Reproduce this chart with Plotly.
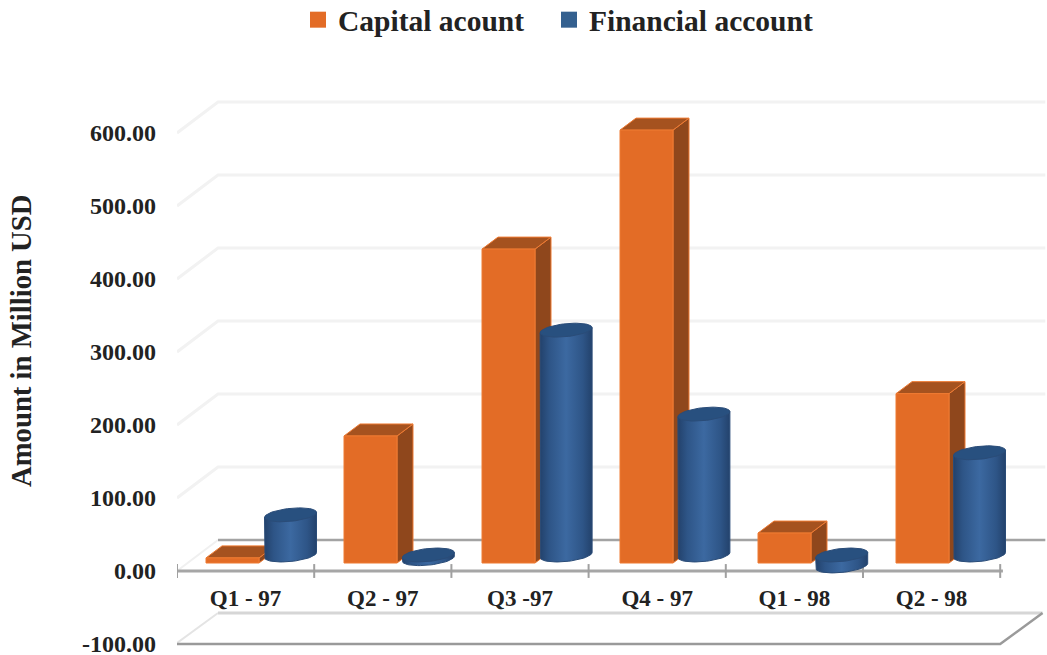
import numpy as np
import plotly.graph_objects as go

categories = ["Q1 - 97", "Q2 - 97", "Q3 -97", "Q4 - 97", "Q1 - 98", "Q2 - 98"]
capital_account = [7, 174, 430, 593, 41, 232]
financial_account = [55, -5, 308, 193, -15, 140]
y_ticks = [-100, 0, 100, 200, 300, 400, 500, 600]
y_tick_labels = ["-100.00", "0.00", "100.00", "200.00", "300.00", "400.00", "500.00", "600.00"]

PX_X = 137.2   # pixels per category
PX_Y = 0.73    # pixels per unit
WALL_DX, WALL_DY = 41 / PX_X, 31 / PX_Y
DEPTH_DX, DEPTH_DY = 16 / PX_X, 12 / PX_Y
PITCH = 138 / PX_X
CYL_PITCH = 137.8 / PX_X
BAR_W = 53 / PX_X
CYL_W = 52 / PX_X
BAR_X0 = 29 / PX_X
CYL_X0 = 87.5 / PX_X
BAR_BASE = 8 / PX_Y
CYL_BASE = 16 / PX_Y
RY, SHEAR = 6.5 / PX_Y, 2.5 / PX_Y
N = len(categories)

ORANGE, ORANGE_SIDE, ORANGE_TOP, ORANGE_EDGE = "#E36C26", "#8F471C", "#A5521F", "#EE7A32"
BLUE, BLUE_TOP = "#34608F", "#28507F"
BLUE_SCALE = [[0, "#23426C"], [0.18, "#2E5587"], [0.5, "#3C69A1"], [0.82, "#2E5587"], [1, "#23426C"]]
FONT = "Liberation Serif"
TEXT = "#222222"

fig = go.Figure()


def line(xs, ys, color, width):
    fig.add_trace(go.Scatter(x=xs, y=ys, mode="lines", line=dict(color=color, width=width),
                             showlegend=False, hoverinfo="skip", cliponaxis=False))


def poly(xs, ys, fill, edge=None, **kw):
    fig.add_trace(go.Scatter(x=list(xs) + [xs[0]], y=list(ys) + [ys[0]], mode="lines", fill="toself",
                             fillcolor=fill, line=dict(color=edge or fill, width=1),
                             showlegend=False, hoverinfo="skip", **kw))


# Gridlines on the wall and the left side
for v in y_ticks:
    if v <= 0:
        continue
    line([0, WALL_DX, N + WALL_DX + 0.03], [v, v + WALL_DY, v + WALL_DY], "#F2F2F2", 3)
# Floor at the minimum and plane at zero
line([0, WALL_DX], [0, WALL_DY], "#F0F0F0", 2)
line([WALL_DX, N + WALL_DX + 0.03], [WALL_DY, WALL_DY], "#A3A3A3", 2.5)
line([-0.01, WALL_DX], [-100, -100 + WALL_DY], "#E4E4E4", 2)
line([WALL_DX, N + WALL_DX + 0.01], [-100 + WALL_DY, -100 + WALL_DY], "#D6D6D6", 3)
line([-0.01, N, N + WALL_DX + 0.01], [-100, -100, -100 + WALL_DY], "#9A9A9A", 2.5)

# Category axis with ticks across the line
line([0, N + 0.02], [0, 0], "#A6A6A6", 3)
tick_x, tick_y = [], []
for i in range(N + 1):
    tick_x += [i, i, None]
    tick_y += [-9.5, 9.5, None]
line(tick_x, tick_y, "#A0A0A0", 2)

t = np.linspace(0, 2 * np.pi, 61)
half = np.linspace(np.pi, 0, 31)

for i in range(N):
    # Box for the capital account
    x0 = BAR_X0 + i * PITCH
    x1 = x0 + BAR_W
    b = BAR_BASE
    top = b + capital_account[i]
    poly([x1, x1 + DEPTH_DX, x1 + DEPTH_DX, x1], [b, b + DEPTH_DY, top + DEPTH_DY, top], ORANGE_SIDE, ORANGE_EDGE)
    poly([x0, x0 + DEPTH_DX, x1 + DEPTH_DX, x1], [top, top + DEPTH_DY, top + DEPTH_DY, top], ORANGE_TOP, ORANGE_EDGE)
    poly([x0, x1, x1, x0], [b, b, top, top], ORANGE, ORANGE_EDGE)

    # Cylinder for the financial account
    c0 = CYL_X0 + i * CYL_PITCH
    cx, rx = c0 + CYL_W / 2, CYL_W / 2
    v = financial_account[i]
    cy_top = CYL_BASE + max(v, 0)
    cy_bot = CYL_BASE + min(v, 0)
    bx = cx + rx * np.cos(half)
    by = cy_bot - RY * np.sin(half) + SHEAR * np.cos(half)
    body_x = [cx - rx] + bx.tolist() + [cx + rx]
    body_y = [cy_top - SHEAR] + by.tolist() + [cy_top + SHEAR]
    fig.add_trace(go.Scatter(x=body_x + body_x[:1], y=body_y + body_y[:1], mode="lines", fill="toself",
                             fillgradient=dict(type="horizontal", colorscale=BLUE_SCALE),
                             line=dict(color="#2A4C78", width=1), showlegend=False, hoverinfo="skip"))
    poly((cx + rx * np.cos(t)).tolist(),
         (cy_top + RY * np.sin(t) + SHEAR * np.cos(t)).tolist(), BLUE_TOP, "#2A4C78")

# Legend entries
for name, col, lg in [("Capital acount", ORANGE, "legend"), ("Financial account", BLUE, "legend2")]:
    fig.add_trace(go.Scatter(x=[None], y=[None], mode="markers", name=name, legend=lg,
                             marker=dict(symbol="square", size=16, color=col)))


def legend_at(px_left):
    return dict(orientation="h", xanchor="left", x=(px_left - 177) / 870, yanchor="middle", y=1 + 70 / 565,
                font=dict(size=29.5, family=FONT, color=TEXT, weight="bold"),
                itemsizing="trace", itemwidth=30, bgcolor="rgba(0,0,0,0)")


fig.update_layout(
    width=1047, height=655, autosize=False,
    margin=dict(l=177, r=0, t=90, b=0, autoexpand=False),
    paper_bgcolor="white", plot_bgcolor="white",
    font=dict(family=FONT, color=TEXT),
    legend=legend_at(298),
    legend2=legend_at(549),
    xaxis=dict(range=[0, 870 / PX_X], anchor="free", position=84 / 565, showgrid=False, zeroline=False,
               showline=False, ticks="", tickmode="array", tickvals=[i + 0.5 for i in range(N)],
               ticktext=categories, tickfont=dict(size=23, family=FONT, color=TEXT, weight="bold"),
               ticklabelstandoff=11),
    yaxis=dict(range=[-84 / PX_Y, 481 / PX_Y], showgrid=False, zeroline=False, showline=False,
               ticks="", tickmode="array", tickvals=y_ticks, ticktext=y_tick_labels, ticklabeloverflow="allow",
               tickfont=dict(size=24, family=FONT, color=TEXT, weight="bold"), ticklabelstandoff=20),
    annotations=[dict(text="Amount in Million USD", xref="paper", yref="paper",
                      x=(21 - 177) / 870, y=(655 - 341) / 565, xanchor="center", yanchor="middle",
                      textangle=-90, showarrow=False,
                      font=dict(size=28.7, family=FONT, color=TEXT, weight="bold"))],
)

fig.write_html("out.html", config={"displayModeBar": False},
               post_script="document.body.style.margin='0';document.documentElement.style.overflow='hidden';window.dispatchEvent(new Event('resize'));")
